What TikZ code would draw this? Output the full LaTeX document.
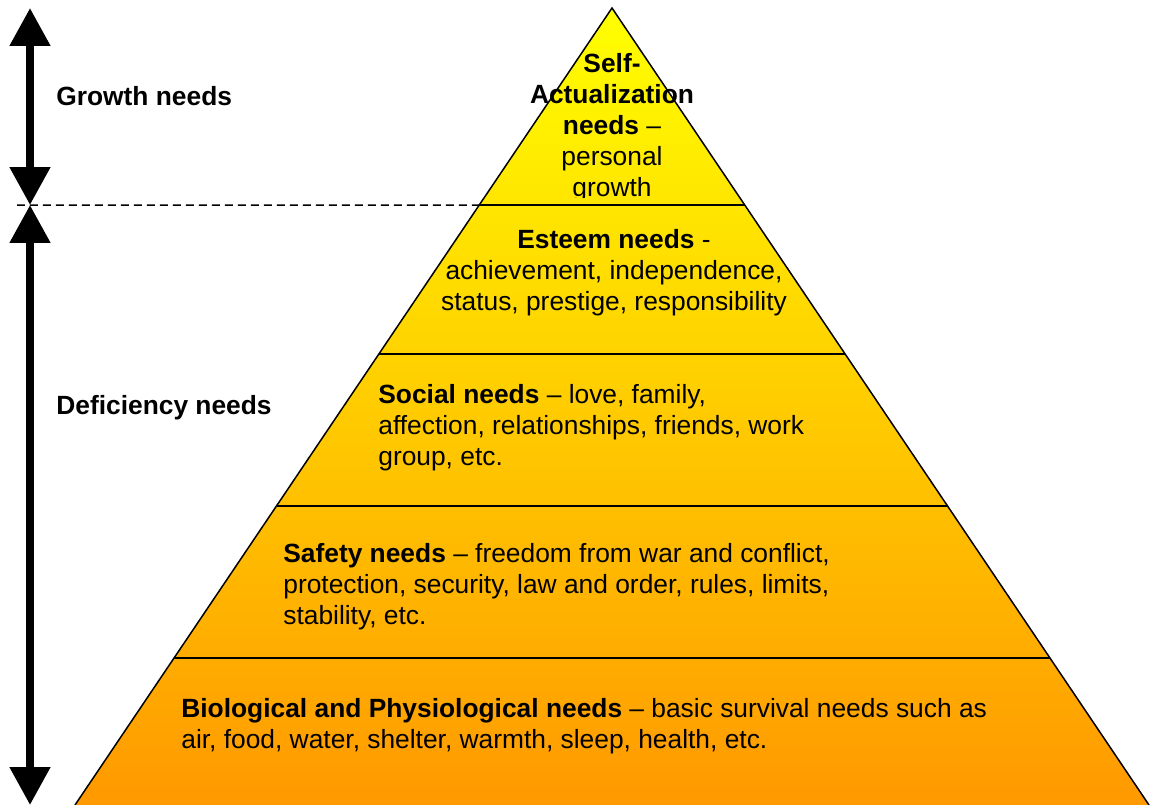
\documentclass[tikz,border=0pt]{standalone}
\usepackage{fontspec}
\setmainfont{Liberation Sans}
\usetikzlibrary{arrows.meta,calc}

\definecolor{pyrtop}{HTML}{FFFF00}
\definecolor{pyrbot}{HTML}{FF9900}

\tikzset{
  edgeline/.style={line width=0.03cm, draw=black},
  needtext/.style={inner sep=0pt, font=\fontsize{15}{17.6}\selectfont, align=left},
  sidearrow/.style={line width=0.16cm,
    {Triangle[width=0.78cm,length=0.76cm]}-{Triangle[width=0.78cm,length=0.76cm]}},
  splitline/.style={line width=0.03cm, dash pattern=on 0.16cm off 0.1cm},
}

\begin{document}
\begin{tikzpicture}[x=0.02cm, y=-0.02cm]
    \useasboundingbox (0,0) rectangle (1150,805);

    % pyramid corners
    \coordinate (apex) at (612,8);
    \coordinate (bl) at (75,805);
    \coordinate (br) at (1149,805);

    \shade[top color=pyrtop, bottom color=pyrbot] (apex) -- (bl) -- (br) -- cycle;
    \draw[edgeline] (bl) -- (apex) -- (br);

    % layer borders
    \coordinate (l1) at ($(apex)!0.2472!(bl)$);
    \coordinate (r1) at ($(apex)!0.2472!(br)$);
    \coordinate (l2) at ($(apex)!0.4341!(bl)$);
    \coordinate (r2) at ($(apex)!0.4341!(br)$);
    \coordinate (l3) at ($(apex)!0.6248!(bl)$);
    \coordinate (r3) at ($(apex)!0.6248!(br)$);
    \coordinate (l4) at ($(apex)!0.8156!(bl)$);
    \coordinate (r4) at ($(apex)!0.8156!(br)$);
    \draw[edgeline] (l1) -- (r1);
    \draw[edgeline] (l2) -- (r2);
    \draw[edgeline] (l3) -- (r3);
    \draw[edgeline] (l4) -- (r4);

    % side arrows
    \coordinate (gtop) at (30,8);
    \coordinate (gbot) at (30,205);
    \coordinate (dbot) at (30,805);
    \coordinate (dashstart) at (17,205);
    \draw[sidearrow] (gtop) -- (gbot);
    \draw[sidearrow] (gbot) -- (dbot);
    \draw[splitline] (dashstart) -- (l1);

    \node[needtext, anchor=west] (growth) at (56,96) {\textbf{Growth needs}};
    \node[needtext, anchor=west] (deficiency) at (56,408) {\textbf{Deficiency needs}};

    \begin{scope}
      \clip (400,8) rectangle (820,197);
      \node[needtext, align=center] (selfact) at (612,128)
        {\textbf{Self-}\\\textbf{Actualization}\\\textbf{needs} --\\personal\\growth};
    \end{scope}
    \node[needtext, align=center] (esteem) at (614,273)
      {\textbf{Esteem needs} -\\achievement, independence,\\status, prestige, responsibility};
    \node[needtext, anchor=west] (social) at (378,428)
      {\textbf{Social needs} -- love, family,\\affection, relationships, friends, work\\group, etc.};
    \node[needtext, anchor=west] (safety) at (283,587)
      {\textbf{Safety needs} -- freedom from war and conflict,\\protection, security, law and order, rules, limits,\\stability, etc.};
    \node[needtext, anchor=west] (bio) at (181,726)
      {\textbf{Biological and Physiological needs} -- basic survival needs such as\\air, food, water, shelter, warmth, sleep, health, etc.};
\end{tikzpicture}
\end{document}
